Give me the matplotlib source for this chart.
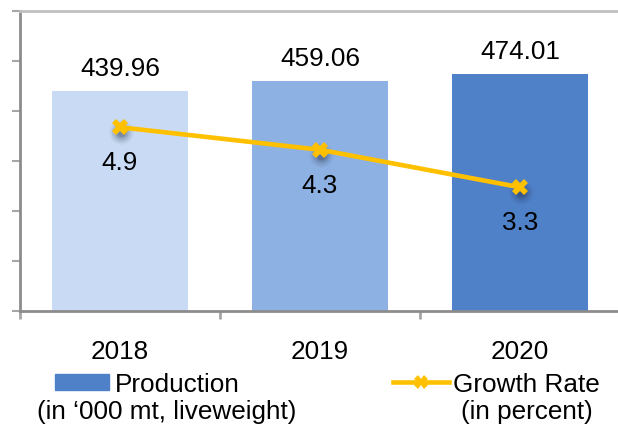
import numpy as np
import matplotlib.pyplot as plt
from matplotlib.patches import Rectangle
from matplotlib.lines import Line2D
from matplotlib.transforms import offset_copy

plt.rcParams['font.family'] = ['Liberation Sans', 'DejaVu Sans']

years = ['2018', '2019', '2020']
production = [439.96, 459.06, 474.01]
growth = [4.9, 4.3, 3.3]
bar_colors = ['#C9DBF4', '#8EB1E3', '#4F81C9']
line_color = '#FFC000'
fs = 18.8

fig = plt.figure(figsize=(6.18, 4.28), dpi=100)
ax = fig.add_axes([20 / 618, 117 / 428, 600 / 618, 300 / 428])

x = np.arange(len(years))
ax.bar(x, production, width=0.68, color=bar_colors, zorder=2)
ax.set_xlim(-0.5, 2.5)
ax.set_ylim(0, 600)
ax.set_yticks(np.arange(0, 601, 100))
ax.set_yticklabels([])
ax.set_xticks(np.arange(-0.5, 3, 1))
ax.set_xticklabels([])
ax.set_xticks(x, minor=True)
ax.set_xticklabels(years, minor=True, fontsize=fs)
ax.tick_params(axis='x', which='minor', length=0, pad=21)
ax.tick_params(axis='x', which='major', length=6, width=2, color='#A6A6A6')
ax.tick_params(axis='y', length=6, width=1.5, color='#A6A6A6')

for side in ['left', 'bottom']:
    ax.spines[side].set_color('#8C8C8C')
    ax.spines[side].set_linewidth(2)
ax.spines['top'].set_color('#C0C0C0')
ax.spines['top'].set_linewidth(2)
ax.spines['right'].set_visible(False)

for xi, v in zip(x, production):
    ax.annotate(f'{v:.2f}', (xi, v), xytext=(0, 11), textcoords='offset points',
                ha='center', va='baseline', fontsize=fs)

ax2 = ax.twinx()
ax2.set_ylim(0, 8)
ax2.axis('off')

# soft shadow under markers
for s, a in [(300, 0.06), (200, 0.10), (110, 0.16), (50, 0.22)]:
    tr = offset_copy(ax2.transData, fig=fig, x=1, y=-5, units='dots')
    ax2.scatter(x, growth, s=s, color='#1F2A44', alpha=a, lw=0, transform=tr, zorder=2)

ax2.plot(x, growth, color=line_color, lw=3.3, marker='X', markersize=11,
         markeredgewidth=0, zorder=3, solid_capstyle='butt')

for xi, v in zip(x, growth):
    ax2.annotate(f'{v:.1f}', (xi, v), xytext=(0, -31), textcoords='offset points',
                 ha='center', va='baseline', fontsize=fs)

# legend drawn below the axis
fig.patches.append(Rectangle((55 / 618, 38 / 428), 54 / 618, 16 / 428,
                             transform=fig.transFigure, color='#4F81C9'))
fig.text(115 / 618, 36 / 428, 'Production', fontsize=fs, ha='left', va='baseline')
fig.text(166.5 / 618, 9 / 428, '(in \u2018000 mt, liveweight)', fontsize=fs,
         ha='center', va='baseline')
fig.lines.append(Line2D([393 / 618, 449 / 618], [46 / 428, 46 / 428],
                        transform=fig.transFigure, color=line_color, lw=3.3))
fig.lines.append(Line2D([421 / 618], [46 / 428], transform=fig.transFigure,
                        color=line_color, marker='X', markersize=10, markeredgewidth=0))
fig.text(453 / 618, 36 / 428, 'Growth Rate', fontsize=fs, ha='left', va='baseline')
fig.text(527 / 618, 9 / 428, '(in percent)', fontsize=fs, ha='center', va='baseline')

fig.savefig('out.png', dpi=100)
